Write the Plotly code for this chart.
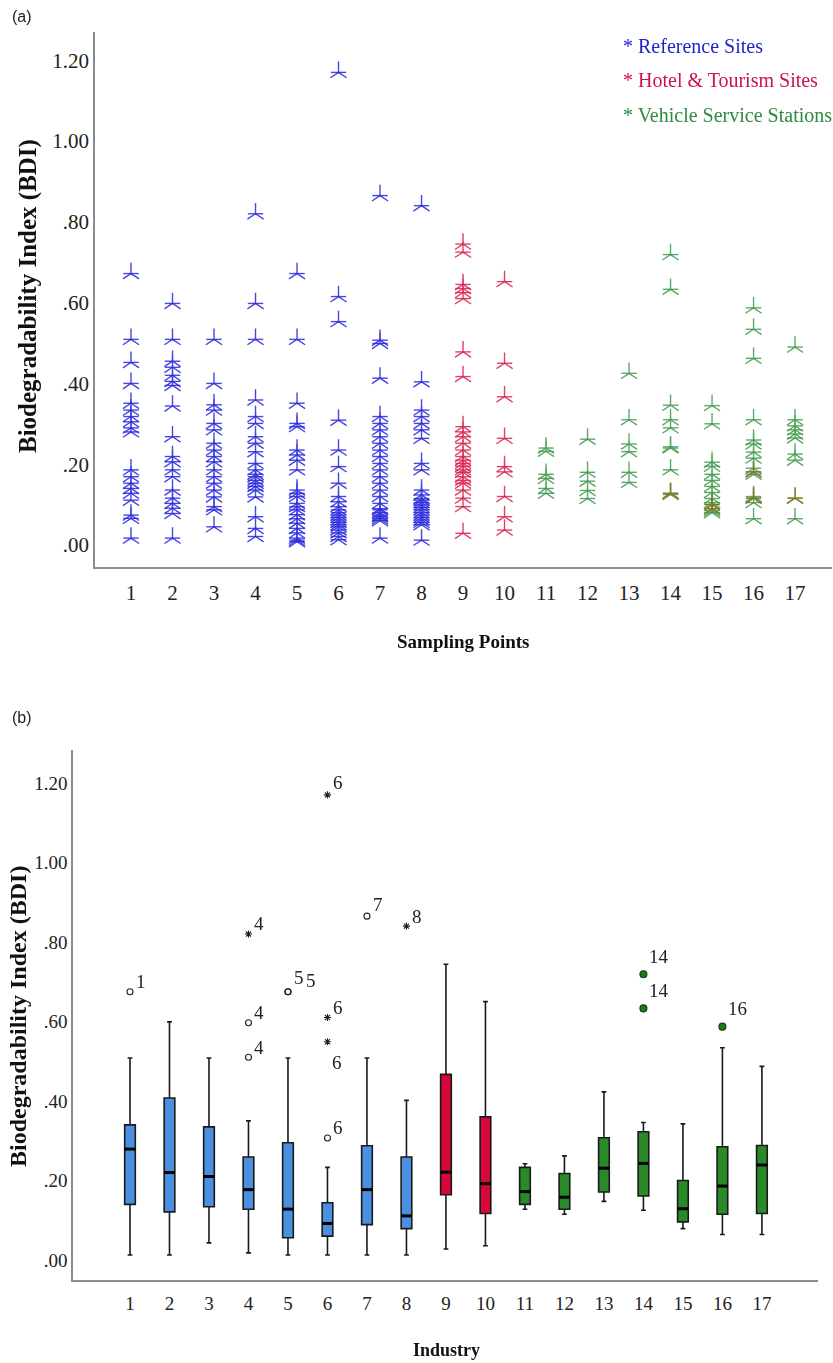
import plotly.graph_objects as go

# ---------------- data: panel (a) individual BDI values per sampling point ----------------
site1 = [0.672, 0.509, 0.452, 0.40, 0.351, 0.334, 0.318, 0.305, 0.29, 0.280, 0.186, 0.169, 0.153, 0.140, 0.128, 0.111, 0.074, 0.066, 0.017]
site2 = [0.598, 0.509, 0.455, 0.44, 0.42, 0.405, 0.395, 0.344, 0.268, 0.219, 0.206, 0.186, 0.169, 0.136, 0.116, 0.103, 0.091, 0.078, 0.017]
site3 = [0.509, 0.40, 0.347, 0.334, 0.301, 0.285, 0.252, 0.235, 0.219, 0.206, 0.186, 0.169, 0.153, 0.136, 0.119, 0.095, 0.087, 0.045]
site4 = [0.82, 0.598, 0.509, 0.359, 0.318, 0.301, 0.268, 0.252, 0.231, 0.202, 0.186, 0.175, 0.169, 0.16, 0.153, 0.145, 0.136, 0.119, 0.07, 0.041, 0.021]
site5 = [0.672, 0.509, 0.351, 0.301, 0.293, 0.235, 0.223, 0.21, 0.186, 0.136, 0.128, 0.12, 0.103, 0.095, 0.087, 0.075, 0.065, 0.054, 0.041, 0.03, 0.017, 0.012, 0.008]
site6 = [1.17, 0.615, 0.553, 0.309, 0.235, 0.194, 0.153, 0.12, 0.107, 0.095, 0.087, 0.08, 0.074, 0.068, 0.062, 0.056, 0.05, 0.045, 0.037, 0.03, 0.021, 0.013]
site7 = [0.865, 0.507, 0.499, 0.413, 0.318, 0.301, 0.285, 0.268, 0.252, 0.235, 0.219, 0.202, 0.186, 0.169, 0.153, 0.136, 0.12, 0.103, 0.09, 0.087, 0.08, 0.074, 0.07, 0.065, 0.06, 0.017]
site8 = [0.84, 0.404, 0.334, 0.318, 0.301, 0.285, 0.264, 0.202, 0.186, 0.136, 0.124, 0.115, 0.111, 0.105, 0.099, 0.093, 0.087, 0.08, 0.074, 0.068, 0.062, 0.056, 0.05, 0.012]
site9 = [0.745, 0.725, 0.645, 0.635, 0.625, 0.61, 0.478, 0.417, 0.293, 0.28, 0.268, 0.252, 0.235, 0.219, 0.21, 0.202, 0.195, 0.186, 0.18, 0.169, 0.16, 0.153, 0.136, 0.116, 0.095, 0.029]
site10 = [0.652, 0.45, 0.367, 0.264, 0.194, 0.181, 0.12, 0.07, 0.037]
site11 = [0.24, 0.232, 0.175, 0.165, 0.14, 0.128]
site12 = [0.262, 0.18, 0.158, 0.135, 0.115]
site13 = [0.425, 0.31, 0.25, 0.231, 0.18, 0.155]
site14 = [0.719, 0.633, 0.346, 0.31, 0.29, 0.243, 0.24, 0.186, 0.125]
site15 = [0.345, 0.30, 0.205, 0.195, 0.175, 0.16, 0.145, 0.13, 0.115, 0.105, 0.085, 0.08]
site16 = [0.587, 0.534, 0.462, 0.31, 0.26, 0.25, 0.23, 0.215, 0.19, 0.175, 0.12, 0.105, 0.065]
site17 = [0.49, 0.31, 0.295, 0.285, 0.275, 0.265, 0.225, 0.21, 0.065]

# darker (overprinted) vehicle-station readings
dark_site = [14, 15, 15, 16, 16, 17]
dark_value = [0.128, 0.1, 0.09, 0.181, 0.116, 0.116]

reference_sites = [1, 2, 3, 4, 5, 6, 7, 8]
hotel_sites = [9, 10]
vehicle_sites = [11, 12, 13, 14, 15, 16, 17]
site_values = [site1, site2, site3, site4, site5, site6, site7, site8, site9,
               site10, site11, site12, site13, site14, site15, site16, site17]

# ---------------- data: panel (b) box-plot summaries per industry ----------------
industry = list(range(1, 18))
box_low = [0.0125, 0.0125, 0.043, 0.018, 0.0125, 0.0125, 0.0125, 0.0125, 0.0275, 0.036, 0.1275, 0.115, 0.1475, 0.125, 0.079, 0.064, 0.064]
box_q1 = [0.14, 0.121, 0.134, 0.1275, 0.056, 0.06, 0.089, 0.079, 0.164, 0.117, 0.14, 0.1275, 0.171, 0.161, 0.096, 0.115, 0.117]
box_med = [0.279, 0.22, 0.21, 0.177, 0.128, 0.092, 0.177, 0.111, 0.221, 0.192, 0.172, 0.158, 0.231, 0.243, 0.129, 0.186, 0.239]
box_q3 = [0.34, 0.4075, 0.335, 0.259, 0.295, 0.144, 0.2875, 0.259, 0.467, 0.36, 0.233, 0.2175, 0.3075, 0.3225, 0.2, 0.285, 0.288]
box_high = [0.508, 0.599, 0.508, 0.35, 0.508, 0.233, 0.508, 0.4017, 0.744, 0.65, 0.242, 0.262, 0.423, 0.346, 0.3425, 0.534, 0.487]

# outliers: o = mild (circle), * = extreme (asterisk), g = station outlier (filled)
out_site = [1, 4, 4, 4, 5, 5, 6, 6, 6, 6, 7, 8, 14, 14, 16]
out_value = [0.675, 0.82, 0.597, 0.51, 0.675, 0.675, 1.17, 0.61, 0.549, 0.307, 0.865, 0.84, 0.719, 0.633, 0.587]
out_kind = ["o", "*", "o", "o", "o", "o", "*", "*", "*", "o", "o", "*", "g", "g", "g"]
out_label = ["1", "4", "4", "4", "5", "5", "6", "6", "6", "6", "7", "8", "14", "14", "16"]

y_tickvals = [0, 0.2, 0.4, 0.6, 0.8, 1.0, 1.2]
y_ticktext = [".00", ".20", ".40", ".60", ".80", "1.00", "1.20"]

# ---------------- styling ----------------
W, H = 833, 1363
SERIF = "Liberation Serif, Times New Roman, serif"
BLUE, RED, GREEN, OLIVE = "#2626dc", "#d8204e", "#3f9a4c", "#7e7a2c"
BOX_BLUE, BOX_RED, BOX_GREEN = "#4a8fe0", "#d6083a", "#2a8a2a"
# label offsets (pixels) for outlier annotations: (xshift, yshift)
label_shift = [(4, 10), (4, 11), (4, 10), (4, 10), (4, 14), (16, 11), (4, 12), (4, 10), (3, -21), (4, 10), (4, 12), (4, 10), (4, 18), (4, 18), (4, 18)]


def pxx(x):
    return x / W


def pxy(y):
    return 1 - y / H


fig = go.Figure()

# five-armed star: upright stem with two legs, plus a horizontal bar
STAR_PARTS = (("y-up-open", 13.5), ("line-ew-open", 11))


def add_stars(sites, color):
    xs, ys = [], []
    for s in sites:
        for v in site_values[s - 1]:
            xs.append(s)
            ys.append(v)
    for sym, size in STAR_PARTS:
        fig.add_trace(go.Scatter(
            x=xs, y=ys, mode="markers", xaxis="x", yaxis="y", showlegend=False,
            hoverinfo="skip", opacity=0.85,
            marker=dict(symbol=sym, size=size, color=color,
                        line=dict(color=color, width=1.4))))


add_stars(reference_sites, BLUE)
add_stars(hotel_sites, RED)
add_stars(vehicle_sites, GREEN)
for sym, size in STAR_PARTS:
    fig.add_trace(go.Scatter(
        x=dark_site, y=dark_value, mode="markers", xaxis="x", yaxis="y",
        showlegend=False, hoverinfo="skip",
        marker=dict(symbol=sym, size=size, color=OLIVE, line=dict(color=OLIVE, width=1.6))))

# ---------------- panel (b) boxes ----------------
for lo, hi, fill in ((0, 8, BOX_BLUE), (8, 10, BOX_RED), (10, 17, BOX_GREEN)):
    fig.add_trace(go.Box(
        x=industry[lo:hi], q1=box_q1[lo:hi], median=box_med[lo:hi], q3=box_q3[lo:hi],
        lowerfence=box_low[lo:hi], upperfence=box_high[lo:hi],
        xaxis="x2", yaxis="y2", fillcolor=fill, line=dict(color="#1a1a1a", width=1.6),
        width=0.27, whiskerwidth=0.45, boxpoints=False, showlegend=False, hoverinfo="skip"))

# thick median bars
fig.add_trace(go.Scatter(
    x=industry, y=box_med, mode="markers", xaxis="x2", yaxis="y2", showlegend=False,
    hoverinfo="skip",
    marker=dict(symbol="line-ew", size=7.5, color="#000", line=dict(color="#000", width=3))))

# outlier markers
sym_map = {"o": "circle-open", "*": "asterisk-open", "g": "circle"}
size_map = {"o": 6, "*": 6, "g": 7}
fig.add_trace(go.Scatter(
    x=out_site, y=out_value, mode="markers", xaxis="x2", yaxis="y2", showlegend=False,
    hoverinfo="skip",
    marker=dict(symbol=[sym_map[k] for k in out_kind],
                size=[size_map[k] for k in out_kind],
                color=["#1e7a1e" if k == "g" else "#222" for k in out_kind],
                opacity=1,
                line=dict(color=["#103f10" if k == "g" else "#222" for k in out_kind], width=1.1))))

annotations = []
for s, v, lab, (dx, dy) in zip(out_site, out_value, out_label, label_shift):
    annotations.append(dict(x=s, y=v, xref="x2", yref="y2", text=lab, showarrow=False,
                            xanchor="left", yanchor="middle", xshift=dx, yshift=dy,
                            font=dict(family=SERIF, size=19, color="#222")))

# legend for panel (a)
for text, color, ypix in (("* Reference Sites", "#2222cc", 46),
                          ("* Hotel &amp; Tourism Sites", "#cc1446", 80),
                          ("* Vehicle Service Stations", "#2e8b3e", 115)):
    annotations.append(dict(x=pxx(621), y=pxy(ypix), xref="paper", yref="paper", text=text,
                            showarrow=False, xanchor="left", yanchor="middle",
                            font=dict(family=SERIF, size=20, color=color)))

# panel letters
for text, ypix in (("(a)", 16), ("(b)", 718)):
    annotations.append(dict(x=pxx(10), y=pxy(ypix), xref="paper", yref="paper", text=text,
                            showarrow=False, xanchor="left", yanchor="middle",
                            font=dict(family="Liberation Sans, Arial, sans-serif", size=16, color="#222")))

# axis titles
title_font = dict(family=SERIF, size=25, color="#111")
annotations += [
    dict(x=pxx(28), y=pxy(296), xref="paper", yref="paper", text="<b>Biodegradability Index (BDI)</b>",
         textangle=-90, showarrow=False, xanchor="center", yanchor="middle", font=title_font),
    dict(x=pxx(18), y=pxy(1017), xref="paper", yref="paper", text="<b>Biodegradability Index (BDI)</b>",
         textangle=-90, showarrow=False, xanchor="center", yanchor="middle", font=dict(title_font, size=24)),
    dict(x=pxx(463), y=pxy(641), xref="paper", yref="paper", text="<b>Sampling Points</b>",
         showarrow=False, xanchor="center", yanchor="middle", font=dict(family=SERIF, size=19, color="#111")),
    dict(x=pxx(446), y=pxy(1350), xref="paper", yref="paper", text="<b>Industry</b>",
         showarrow=False, xanchor="center", yanchor="middle", font=dict(family=SERIF, size=18, color="#111")),
]

axis_common = dict(showgrid=False, zeroline=False, showline=True, linecolor="#8c8c8c",
                   linewidth=1.5, ticks="", fixedrange=True)

fig.update_layout(
    width=W, height=H, margin=dict(l=0, r=0, t=0, b=0),
    paper_bgcolor="white", plot_bgcolor="white", showlegend=False,
    boxmode="overlay",
    xaxis=dict(axis_common, domain=[pxx(95), pxx(832)], range=[0.1325, 17.89], anchor="y",
               tickvals=industry, ticktext=[str(i) for i in industry], ticklabelstandoff=6,
               tickfont=dict(family=SERIF, size=21, color="#222")),
    yaxis=dict(axis_common, domain=[pxy(567), pxy(32)], range=[-0.0545, 1.27], anchor="x",
               tickvals=y_tickvals, ticktext=y_ticktext, ticklabelstandoff=0,
               tickfont=dict(family=SERIF, size=21, color="#222")),
    xaxis2=dict(axis_common, domain=[pxx(73), pxx(818)], range=[-0.443, 18.42], anchor="y2",
                tickvals=industry, ticktext=[str(i) for i in industry], ticklabelstandoff=5,
                tickfont=dict(family=SERIF, size=19, color="#222")),
    yaxis2=dict(axis_common, domain=[pxy(1280), pxy(750)], range=[-0.0503, 1.283], anchor="x2",
                tickvals=y_tickvals, ticktext=y_ticktext, ticklabelstandoff=0,
                tickfont=dict(family=SERIF, size=19, color="#222")),
    annotations=annotations,
)

fig.write_html("out.html")
